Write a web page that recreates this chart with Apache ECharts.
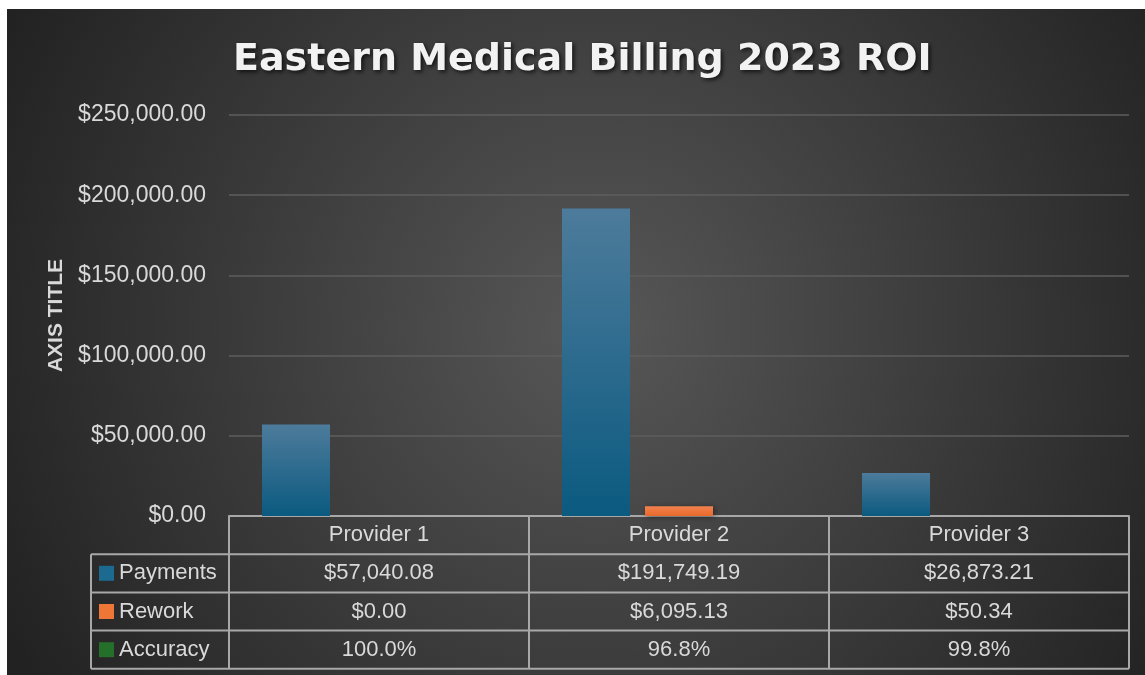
<!DOCTYPE html>
<html><head><meta charset="utf-8">
<script src="https://cdn.jsdelivr.net/npm/echarts@6/dist/echarts.min.js"></script>
<style>html,body{margin:0;padding:0;background:#fff;}#c{position:absolute;left:7px;top:9px;width:1138px;height:666px;}</style>
</head><body><div id="c"></div>
<script>
const titleText = 'Eastern Medical Billing 2023 ROI';
const axisTitle = 'AXIS TITLE';
const categories = ['Provider 1', 'Provider 2', 'Provider 3'];
const seriesNames = ['Payments', 'Rework', 'Accuracy'];
const payments = [57040.08, 191749.19, 26873.21];
const rework = [0, 6095.13, 50.34];
const accuracy = [1.000, 0.968, 0.998];
const yMin = 0, yMax = 250000, yInterval = 50000;

const money = v => '$' + v.toLocaleString('en-US', {minimumFractionDigits: 2, maximumFractionDigits: 2});
const pct = v => (v * 100).toFixed(1) + '%';
const seriesData = [payments, rework, accuracy];
const seriesFmt = [money, money, pct];

function vgrad(top, bottom) {
  return {type: 'linear', x: 0, y: 0, x2: 0, y2: 1, colorStops: [{offset: 0, color: top}, {offset: 1, color: bottom}]};
}
const seriesColors = [vgrad('#4d7b9b', '#0b5a80'), vgrad('#f2824f', '#e8692a'), vgrad('#2f7f35', '#1b5e22')];
const keyColors = ['#1d6a91', '#ee7637', '#24702b'];

const textColor = '#d9d9d9';
const lineColor = '#a8a8a8';
const font = "'Liberation Sans', Arial, sans-serif";

const chart = echarts.init(document.getElementById('c'), null, {renderer: 'canvas'});
const gridLeft = 222, gridRight = 16, gridTop = 106, gridBottom = 159;

chart.setOption({
  backgroundColor: {type: 'radial', x: 0.52, y: 0.48, r: 1.0, colorStops: [{offset: 0, color: '#575757'}, {offset: 1, color: '#222222'}]},
  animation: false,
  title: {
    text: titleText, left: 221, top: 27,
    textStyle: {color: '#f2f2f2', fontSize: 38, fontWeight: 'bold', fontFamily: "'DejaVu Sans', sans-serif",
      textShadowColor: 'rgba(0,0,0,0.7)', textShadowBlur: 4, textShadowOffsetX: 2, textShadowOffsetY: 2}
  },
  grid: {left: gridLeft, right: gridRight, top: gridTop, bottom: gridBottom},
  xAxis: {
    type: 'category', data: categories,
    axisLine: {show: true, lineStyle: {color: lineColor, width: 2}},
    axisTick: {show: false}, axisLabel: {show: false}
  },
  yAxis: {
    type: 'value', min: yMin, max: yMax, interval: yInterval,
    name: axisTitle, nameLocation: 'middle', nameGap: 160, nameRotate: 90,
    nameTextStyle: {color: textColor, fontSize: 21, fontWeight: 'bold', fontFamily: "'Liberation Sans Narrow', 'Liberation Sans', sans-serif"},
    axisLine: {show: false}, axisTick: {show: false},
    axisLabel: {color: textColor, fontSize: 23, fontFamily: font, margin: 23, formatter: v => money(v)},
    splitLine: {lineStyle: {color: '#5e5e5e', width: 1.5}}
  },
  series: seriesNames.map((n, i) => ({
    name: n, type: 'bar', data: seriesData[i],
    barGap: '22%', barCategoryGap: '22%',
    itemStyle: {color: seriesColors[i], shadowColor: 'rgba(0,0,0,0.45)', shadowBlur: 6, shadowOffsetX: 2, shadowOffsetY: 1}
  }))
});

// Data table under the plot, built from the same arrays
const c0 = chart.convertToPixel({xAxisIndex: 0}, 0);
const c1 = chart.convertToPixel({xAxisIndex: 0}, 1);
const half = (c1 - c0) / 2;
const y0 = chart.convertToPixel({yAxisIndex: 0}, 0);
const rowH = 38.2;
const tableLeft = 84;
const rightX = chart.convertToPixel({xAxisIndex: 0}, categories.length - 1) + half;
const leftPlot = c0 - half;
const g = [];
const ls = {stroke: lineColor, lineWidth: 2};
const nRows = seriesNames.length;
const bottomY = y0 + rowH * (nRows + 1);
for (let r = 1; r <= nRows + 1; r++) {
  g.push({type: 'line', shape: {x1: tableLeft, y1: y0 + rowH * r, x2: rightX, y2: y0 + rowH * r}, style: ls});
}
g.push({type: 'line', shape: {x1: tableLeft, y1: y0 + rowH, x2: tableLeft, y2: bottomY}, style: ls});
for (let k = 0; k <= categories.length; k++) {
  const x = leftPlot + k * 2 * half;
  g.push({type: 'line', shape: {x1: x, y1: y0, x2: x, y2: bottomY}, style: ls});
}
const tfont = '22px ' + font;
categories.forEach((cat, k) => {
  const cx = chart.convertToPixel({xAxisIndex: 0}, k);
  g.push({type: 'text', x: cx, y: y0 + rowH / 2, style: {text: cat, fill: textColor, font: tfont, textAlign: 'center', textVerticalAlign: 'middle'}});
});
seriesNames.forEach((n, r) => {
  const cy = y0 + rowH * (r + 1.5);
  g.push({type: 'rect', shape: {x: tableLeft + 8, y: cy - 7.5, width: 15, height: 15}, style: {fill: keyColors[r]}});
  g.push({type: 'text', x: tableLeft + 28, y: cy, style: {text: n, fill: textColor, font: tfont, textAlign: 'left', textVerticalAlign: 'middle'}});
  seriesData[r].forEach((v, k) => {
    const cx = chart.convertToPixel({xAxisIndex: 0}, k);
    g.push({type: 'text', x: cx, y: cy, style: {text: seriesFmt[r](v), fill: textColor, font: tfont, textAlign: 'center', textVerticalAlign: 'middle'}});
  });
});
chart.setOption({graphic: g.map(e => Object.assign({silent: true, z: 10}, e))});
</script></body></html>
